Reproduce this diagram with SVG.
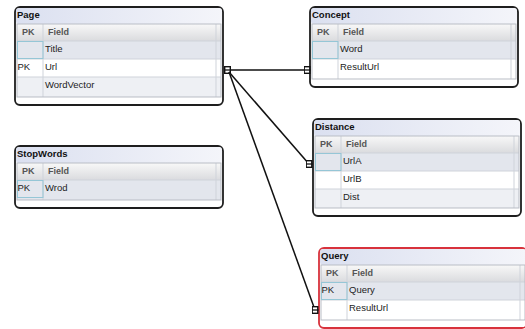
<svg xmlns="http://www.w3.org/2000/svg" width="525" height="329" viewBox="0 0 525 329">
  <defs>
    <linearGradient id="titleGrad" x1="0" y1="0" x2="1" y2="0">
      <stop offset="0" stop-color="#dbe0f0"/>
      <stop offset="1" stop-color="#f4f5fa"/>
    </linearGradient>
    <linearGradient id="hdrGrad" x1="0" y1="0" x2="0" y2="1">
      <stop offset="0" stop-color="#f8f8f8"/>
      <stop offset="1" stop-color="#dadbde"/>
    </linearGradient>
    <marker id="key" viewBox="0 0 7 8" refX="3.5" refY="4" markerWidth="7" markerHeight="8" markerUnits="userSpaceOnUse" orient="0">
      <rect x="0.7" y="0.7" width="5.6" height="6.6" fill="#fff" stroke="#111" stroke-width="1.4"/>
      <line x1="0" y1="4" x2="7" y2="4" stroke="#111" stroke-width="1.3"/>
    </marker>
  </defs>
  <style>
    .box { fill: #fff; stroke: #1e1e1e; stroke-width: 1.8; }
    .box.sel { stroke: #d8323c; }
    .ttl { fill: url(#titleGrad); }
    .hdr { fill: url(#hdrGrad); }
    .r1 { fill: #e3e6ed; }
    .r2 { fill: #ffffff; }
    .r3 { fill: #eef0f4; }
    .inner { fill: none; stroke: #b9bdc5; stroke-width: 1; }
    .sep { stroke: #cfd3da; stroke-width: 1; }
    .cell { fill: none; stroke: #95c6d6; stroke-width: 1; }
    text { font-family: "Liberation Sans", Arial, sans-serif; font-size: 9.5px; fill: #222; }
    .name { font-weight: bold; fill: #111; }
    .col { font-weight: bold; fill: #555; font-size: 9px; }
    .conn { stroke: #111; stroke-width: 1.5; fill: none; }
  </style>

  <!-- Page table -->
  <g id="page" transform="translate(15,7)">
    <rect class="box" x="0" y="0" width="208" height="98" rx="5"/>
    <rect class="ttl" x="1" y="1" width="206" height="16" rx="3"/>
    <text class="name" x="2" y="11">Page</text>
    <rect class="hdr" x="2" y="17" width="204" height="17"/>
    <rect class="r1" x="2" y="34" width="204" height="18"/>
    <rect class="r2" x="2" y="52" width="204" height="18"/>
    <rect class="r3" x="2" y="70" width="204" height="20"/>
    <line class="sep" x1="2" y1="34" x2="206" y2="34"/>
    <line class="sep" x1="2" y1="52" x2="206" y2="52"/>
    <line class="sep" x1="2" y1="70" x2="206" y2="70"/>
    <line class="sep" x1="28" y1="17" x2="28" y2="90"/>
    <line class="sep" x1="201" y1="17" x2="201" y2="90"/>
    <rect class="inner" x="2" y="17" width="204" height="73"/>
    <rect class="cell" x="2.5" y="34.5" width="25.5" height="17"/>
    <text class="col" x="7" y="28">PK</text>
    <text class="col" x="33" y="28">Field</text>
    <text x="30" y="45">Title</text>
    <text x="2.5" y="63">PK</text>
    <text x="30" y="63">Url</text>
    <text x="30" y="81">WordVector</text>
  </g>

  <!-- StopWords table -->
  <g id="stopwords" transform="translate(15,146)">
    <rect class="box" x="0" y="0" width="208" height="62" rx="5"/>
    <rect class="ttl" x="1" y="1" width="206" height="16" rx="3"/>
    <text class="name" x="2" y="11">StopWords</text>
    <rect class="hdr" x="2" y="17" width="204" height="17"/>
    <rect class="r1" x="2" y="34" width="204" height="20"/>
    <line class="sep" x1="2" y1="34" x2="206" y2="34"/>
    <line class="sep" x1="28" y1="17" x2="28" y2="54"/>
    <line class="sep" x1="201" y1="17" x2="201" y2="54"/>
    <rect class="inner" x="2" y="17" width="204" height="37"/>
    <rect class="cell" x="2.5" y="34.5" width="25.5" height="17"/>
    <text class="col" x="7" y="28">PK</text>
    <text class="col" x="33" y="28">Field</text>
    <text x="2.5" y="45">PK</text>
    <text x="30" y="45">Wrod</text>
  </g>

  <!-- Concept table -->
  <g id="concept" transform="translate(310,7)">
    <rect class="box" x="0" y="0" width="208" height="80" rx="5"/>
    <rect class="ttl" x="1" y="1" width="206" height="16" rx="3"/>
    <text class="name" x="2" y="11">Concept</text>
    <rect class="hdr" x="2" y="17" width="204" height="17"/>
    <rect class="r1" x="2" y="34" width="204" height="18"/>
    <rect class="r2" x="2" y="52" width="204" height="20"/>
    <line class="sep" x1="2" y1="34" x2="206" y2="34"/>
    <line class="sep" x1="2" y1="52" x2="206" y2="52"/>
    <line class="sep" x1="28" y1="17" x2="28" y2="72"/>
    <line class="sep" x1="201" y1="17" x2="201" y2="72"/>
    <rect class="inner" x="2" y="17" width="204" height="55"/>
    <rect class="cell" x="2.5" y="34.5" width="25.5" height="17"/>
    <text class="col" x="7" y="28">PK</text>
    <text class="col" x="33" y="28">Field</text>
    <text x="30" y="45">Word</text>
    <text x="30" y="63">ResultUrl</text>
  </g>

  <!-- Distance table -->
  <g id="distance" transform="translate(313,119)">
    <rect class="box" x="0" y="0" width="208" height="97" rx="5"/>
    <rect class="ttl" x="1" y="1" width="206" height="16" rx="3"/>
    <text class="name" x="2" y="11">Distance</text>
    <rect class="hdr" x="2" y="17" width="204" height="17"/>
    <rect class="r1" x="2" y="34" width="204" height="18"/>
    <rect class="r2" x="2" y="52" width="204" height="18"/>
    <rect class="r3" x="2" y="70" width="204" height="19"/>
    <line class="sep" x1="2" y1="34" x2="206" y2="34"/>
    <line class="sep" x1="2" y1="52" x2="206" y2="52"/>
    <line class="sep" x1="2" y1="70" x2="206" y2="70"/>
    <line class="sep" x1="28" y1="17" x2="28" y2="89"/>
    <line class="sep" x1="201" y1="17" x2="201" y2="89"/>
    <rect class="inner" x="2" y="17" width="204" height="72"/>
    <rect class="cell" x="2.5" y="34.5" width="25.5" height="17"/>
    <text class="col" x="7" y="28">PK</text>
    <text class="col" x="33" y="28">Field</text>
    <text x="30" y="45">UrlA</text>
    <text x="30" y="63">UrlB</text>
    <text x="30" y="81">Dist</text>
  </g>

  <!-- Query table (selected) -->
  <g id="query" transform="translate(319,248)">
    <rect class="box sel" x="0" y="0" width="208" height="80" rx="5"/>
    <rect class="ttl" x="1" y="1" width="206" height="16" rx="3"/>
    <text class="name" x="2" y="11">Query</text>
    <rect class="hdr" x="2" y="17" width="204" height="17"/>
    <rect class="r1" x="2" y="34" width="204" height="18"/>
    <rect class="r2" x="2" y="52" width="204" height="20"/>
    <line class="sep" x1="2" y1="34" x2="206" y2="34"/>
    <line class="sep" x1="2" y1="52" x2="206" y2="52"/>
    <line class="sep" x1="28" y1="17" x2="28" y2="72"/>
    <line class="sep" x1="201" y1="17" x2="201" y2="72"/>
    <rect class="inner" x="2" y="17" width="204" height="55"/>
    <rect class="cell" x="2.5" y="34.5" width="25.5" height="17"/>
    <text class="col" x="7" y="28">PK</text>
    <text class="col" x="33" y="28">Field</text>
    <text x="2.5" y="45">PK</text>
    <text x="30" y="45">Query</text>
    <text x="30" y="63">ResultUrl</text>
  </g>

  <!-- Relationships -->
  <g id="connectors">
    <line class="conn" x1="227.5" y1="70" x2="307" y2="70" marker-start="url(#key)" marker-end="url(#key)"/>
    <line class="conn" x1="229" y1="72" x2="309" y2="164" marker-end="url(#key)"/>
    <line class="conn" x1="229" y1="72" x2="315" y2="310" marker-end="url(#key)"/>
  </g>
</svg>
